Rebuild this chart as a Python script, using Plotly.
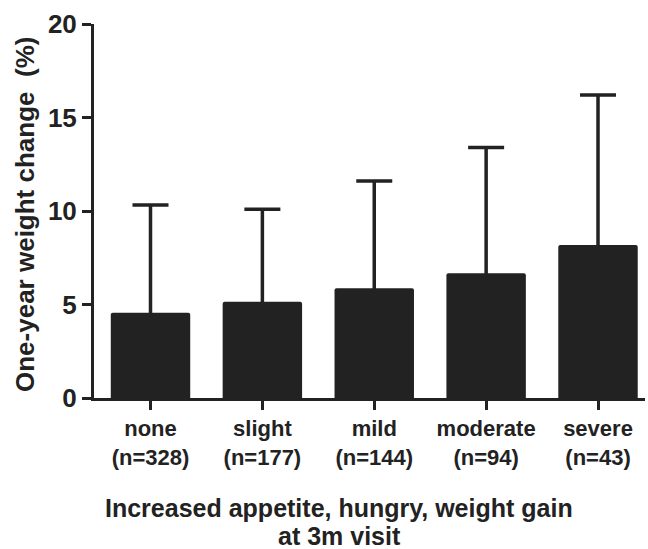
import plotly.graph_objects as go

categories = ["none<br>(n=328)", "slight<br>(n=177)", "mild<br>(n=144)", "moderate<br>(n=94)", "severe<br>(n=43)"]
means = [4.56, 5.15, 5.87, 6.67, 8.18]
upper = [10.32, 10.09, 11.6, 13.4, 16.2]
err_plus = [u - m for u, m in zip(upper, means)]
y_ticks = [0, 5, 10, 15, 20]
x_title_lines = ["Increased appetite, hungry, weight gain", "at 3m visit"]
y_title = "One-year weight change  (%)"

ink = "#222222"
font_family = "Liberation Sans, Arial, sans-serif"

fig = go.Figure()
fig.add_trace(go.Bar(
    x=list(range(len(categories))),
    y=means,
    width=0.71,
    marker=dict(color=ink, line=dict(width=0), cornerradius=2),
    # lower whisker kept tiny so its cap sits hidden inside the bar
    error_y=dict(type="data", symmetric=False, array=err_plus,
                 arrayminus=[0.3] * len(means), color=ink, thickness=3.5, width=18),
))

plot_h = 549 - 24 - 151
plot_w = 648 - 94 - 3


def py(pix):
    return (398 - pix) / plot_h


def px(pix):
    return (pix - 94) / plot_w


fig.update_layout(
    width=648, height=549,
    margin=dict(l=94, r=3, t=24, b=151, autoexpand=False),
    plot_bgcolor="white", paper_bgcolor="white",
    showlegend=False,
    font=dict(family=font_family, color=ink),
    xaxis=dict(
        range=[-0.505, 4.42],
        tickmode="array",
        tickvals=list(range(len(categories))),
        ticktext=["<b>" + c.replace("<br>", "</b><br><b>") + "</b>" for c in categories],
        tickfont=dict(size=22, family=font_family, color=ink),
        ticks="outside", ticklen=9, tickwidth=3, tickcolor=ink,
        showline=True, linewidth=3, linecolor=ink,
        showgrid=False, zeroline=False,
    ),
    yaxis=dict(
        range=[0, 20],
        tickmode="array",
        tickvals=y_ticks,
        ticktext=["<b>%d</b>" % t for t in y_ticks],
        tickfont=dict(size=26, family=font_family, color=ink),
        ticks="outside", ticklen=9, tickwidth=3, tickcolor=ink,
        showline=True, linewidth=3, linecolor=ink,
        showgrid=False, zeroline=False,
    ),
    annotations=[
        dict(text="<b>%s</b>" % x_title_lines[0],
             xref="paper", yref="paper", x=px(339), y=py(508),
             xanchor="center", yanchor="middle", showarrow=False,
             font=dict(size=25, family=font_family, color=ink)),
        dict(text="<b>%s</b>" % x_title_lines[1],
             xref="paper", yref="paper", x=px(339), y=py(536),
             xanchor="center", yanchor="middle", showarrow=False,
             font=dict(size=25, family=font_family, color=ink)),
        dict(text="<b>%s</b>" % y_title,
             xref="paper", yref="paper", x=px(25), y=py(215),
             xanchor="center", yanchor="middle", textangle=-90, showarrow=False,
             font=dict(size=26, family=font_family, color=ink)),
    ],
)

fig.write_html("out.html", config={"displayModeBar": False},
               post_script="document.body.style.margin='0';document.body.style.overflow='hidden';")
